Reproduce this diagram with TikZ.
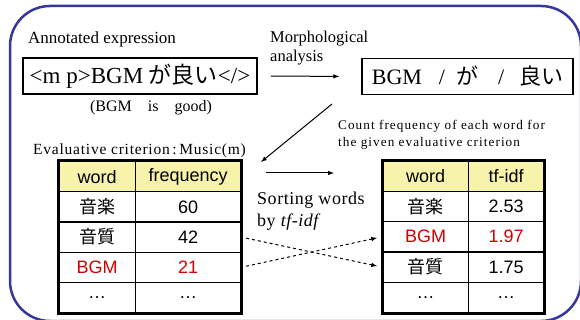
\documentclass[tikz,border=0pt]{standalone}
\usepackage{fontspec}
\setmainfont{Liberation Serif}
\newfontfamily\tabfont{Liberation Sans}
\newfontfamily\jp{Noto Sans CJK JP}
\newfontfamily\spaced[LetterSpace=8]{Liberation Serif}

\definecolor{framecol}{RGB}{54,54,160}
\definecolor{headfill}{RGB}{247,243,170}
\definecolor{hl}{RGB}{210,0,0}

\begin{document}
\begin{tikzpicture}
	[x=1pt,y=-1pt,>=latex,
	cell/.style={draw,line width=1.2pt,minimum height=30.2pt,inner sep=0pt,
		anchor=north west,font=\tabfont\fontsize{18}{20}\selectfont},
	head/.style={cell,fill=headfill},
	caption/.style={inner sep=0pt,font=\fontsize{16}{18}\selectfont},
	note/.style={inner sep=0pt,anchor=north west,align=left},
	box/.style={draw,line width=1.5pt,inner sep=0pt,minimum height=36pt,
		font=\fontsize{22}{24}\selectfont}]
	\useasboundingbox (0,0) rectangle (580,320);
	\draw[framecol,line width=2.5pt,rounded corners=40pt] (10,6) rectangle (581,321);
	
	% expression and its words
	\node[caption,anchor=base west,font=\fontsize{17}{19}\selectfont] (anno) at (28,44) {Annotated expression};
	\node[box,minimum width=234pt,font=\fontsize{23}{25}\selectfont] (expr) at (140,76) {<m p>BGM {\jp が良い}</>};
	\node[caption,anchor=base] (gloss) at (151,112) {(BGM\quad is\quad good)};
	\node[note,font=\fontsize{16.5}{19}\selectfont] (morph) at (270,31) {Morphological\\analysis};
	\node[box,minimum width=211pt] (words) at (467.5,76.5)
		{BGM\hspace{17pt}/\hspace{11pt}{\jp が}\hspace{20pt}/\hspace{15pt}{\jp 良い}\hspace{14pt}};
	\draw[->,line width=1pt,shorten <=13pt,shorten >=22pt] (expr.east) -- (words.west);
	
	% left table
	\node[caption,anchor=base west,font=\addfontfeature{LetterSpace=5}\fontsize{15.5}{18}\selectfont] (crit) at (33,155) {Evaluative criterion\,:\,Music(m)};
	\node[head,minimum width=77pt] (l-0-1) at (58,161) {word};
	\node[head,minimum width=105pt] (l-0-2) at (135,161) {frequency};
	\foreach \w/\f/\c [count=\i] in {{\jp 音楽}/60/black,{\jp 音質}/42/black,BGM/21/hl,…/…/black}
	{
		\node[cell,minimum width=77pt,text=\c] (l-\i-1) at (58,161+30.2*\i) {\w};
		\node[cell,minimum width=105pt,text=\c] (l-\i-2) at (135,161+30.2*\i) {\f};
	}
	\draw[line width=3pt] (l-0-1.north west) rectangle (l-4-2.south east);
	
	% right table
	\node[note,font=\spaced\fontsize{13.2}{17}\selectfont] (count) at (338,120) {Count frequency of each word for\\the given evaluative criterion};
	\node[head,minimum width=86pt] (r-0-1) at (382,160.5) {word};
	\node[head,minimum width=75pt] (r-0-2) at (468,160.5) {tf-idf};
	\foreach \w/\f/\c [count=\i] in {{\jp 音楽}/2.53/black,BGM/1.97/hl,{\jp 音質}/1.75/black,…/…/black}
	{
		\node[cell,minimum width=86pt,text=\c] (r-\i-1) at (382,160.5+30.3*\i) {\w};
		\node[cell,minimum width=75pt,text=\c] (r-\i-2) at (468,160.5+30.3*\i) {\f};
	}
	\draw[line width=3pt] (r-0-1.north west) rectangle (r-4-2.south east);
	
	\coordinate (diagfrom) at (332,104);
	\coordinate (diagto) at (261,162);
	\draw[->,line width=1pt] (diagfrom) -- (diagto);
	\coordinate (countto) at (334,173);
	\draw[->,line width=1pt,shorten <=25pt] (l-0-2.north east |- countto) -- (countto);
	
	\node[note,font=\addfontfeature{LetterSpace=3}\fontsize{18}{22}\selectfont] (sort) at (257,192) {Sorting words\\by \textit{tf-idf}};
	\path
	\foreach \startNode/\endNode in {l-2-2/r-3-1,l-3-2/r-2-1}
	{
		(\startNode.east) edge[->,dashed,line width=1pt,shorten <=5pt,shorten >=5pt] (\endNode.west)
	};
\end{tikzpicture}
\end{document}
